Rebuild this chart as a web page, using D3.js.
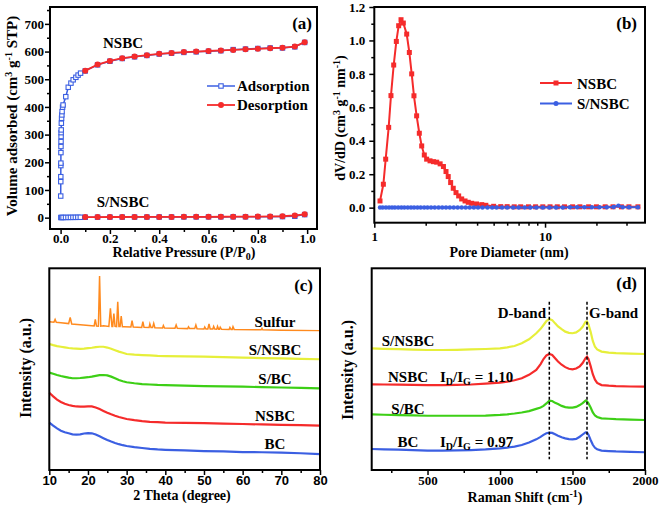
<!DOCTYPE html>
<html><head><meta charset="utf-8">
<script src="https://cdn.jsdelivr.net/npm/d3@7"></script>
<style>
body{margin:0;background:#fff}
svg{display:block}
text{font-family:"Liberation Serif","Times New Roman",serif;font-weight:bold;fill:#000}
</style></head>
<body><svg id="c" width="659" height="505"></svg>
<script>
// ---------- Panel (a): N2 isotherms ----------
const adsNSBC_P = [0.0005,0.0007,0.0008,0.001,0.0011,0.0013,0.0015,0.0017,0.002,0.0022,0.0025,0.003,0.004,0.005,0.006,0.008,0.01,0.021,0.031,0.042,0.051,0.062,0.071,0.081,0.1,0.15,0.2,0.25,0.3,0.35,0.4,0.45,0.5,0.55,0.6,0.65,0.7,0.75,0.8,0.85,0.9,0.95,0.99];
const adsNSBC_V = [78,130,148,188,197,235,257,275,293,307,317,341,359,371,383,399,407,437,471,486,498,507,515,522,530,552,565,575,581,586,591,594,597,599,601,603,607,609,611,613,613,617,633];
const desNSBC_P = [0.1,0.15,0.2,0.25,0.3,0.35,0.4,0.45,0.5,0.55,0.6,0.65,0.7,0.75,0.8,0.85,0.9,0.95,0.99];
const desNSBC_V = [531,553,566,576,582,587,592,595,598,600,602,604,606,608,610,612,614,618,634];
const adsSNSBC_P = [0.001,0.005,0.01,0.02,0.03,0.04,0.05,0.06,0.07,0.08,0.1,0.15,0.2,0.25,0.3,0.35,0.4,0.45,0.5,0.55,0.6,0.65,0.7,0.75,0.8,0.85,0.9,0.95,0.99];
const adsSNSBC_V = [0.5,0.6,0.7,0.8,0.9,1.0,1.1,1.2,1.3,1.4,1.5,1.7,1.9,2.0,2.1,2.2,2.3,2.4,2.5,2.6,2.7,2.8,2.9,3.0,3.2,3.4,3.8,5,11];
const desSNSBC_P = [0.1,0.15,0.2,0.25,0.3,0.35,0.4,0.45,0.5,0.55,0.6,0.65,0.7,0.75,0.8,0.85,0.9,0.95,0.99];
const desSNSBC_V = [2,2.2,2.3,2.4,2.5,2.6,2.7,2.8,2.9,3,3.1,3.2,3.4,3.6,3.9,4.3,5,8,12];
const ticksA_X = [0,0.2,0.4,0.6,0.8,1.0];
const ticksA_Y = [0,100,200,300,400,500,600,700];

// ---------- Panel (b): pore size distribution ----------
const psdNSBC_D = [1.08,1.13,1.166,1.214,1.252,1.299,1.346,1.389,1.434,1.479,1.548,1.604,1.656,1.707,1.77,1.835,1.895,1.963,2.026,2.12,2.22,2.32,2.43,2.54,2.63,2.71,2.80,2.90,3.01,3.12,3.25,3.40,3.55,3.72,3.97,4.26,4.5,5.0,5.5,6.0,6.6,7.2,8.0,8.8,9.7,10.7,11.8,13,14.5,16,18,20,22.5,25,28,31,35];
const psdNSBC_V = [0.04,0.14,0.29,0.48,0.67,0.853,0.994,1.088,1.124,1.104,1.038,0.928,0.80,0.669,0.549,0.445,0.369,0.315,0.29,0.28,0.275,0.272,0.262,0.246,0.216,0.186,0.15,0.116,0.09,0.07,0.052,0.04,0.032,0.026,0.022,0.018,0.014,0.008,0.006,0.006,0.005,0.005,0.005,0.005,0.005,0.005,0.005,0.005,0.005,0.005,0.005,0.005,0.005,0.005,0.005,0.005,0.005];
const psdSNSBC_D = [1.08,1.12,1.17,1.22,1.27,1.32,1.38,1.44,1.5,1.57,1.64,1.71,1.79,1.87,1.96,2.05,2.15,2.26,2.38,2.5,2.63,2.77,2.92,3.08,3.25,3.43,3.62,3.83,4.05,4.3,4.6,4.9,5.2,5.6,6.0,6.5,7.0,7.6,8.2,8.9,9.7,10.6,11.6,12.7,14,15.4,17,18.8,20.8,23,25.2,26.9,28.5,31,35];
const psdSNSBC_V = [0.001,0.001,0.001,0.001,0.001,0.001,0.001,0.001,0.001,0.001,0.001,0.001,0.001,0.001,0.001,0.001,0.001,0.001,0.001,0.001,0.001,0.001,0.001,0.001,0.001,0.001,0.001,0.001,0.001,0.001,0.001,0.001,0.001,0.001,0.001,0.001,0.001,0.001,0.001,0.001,0.001,0.001,0.001,0.001,0.002,0.002,0.002,0.002,0.002,0.002,0.004,0.012,0.003,0.002,0.002];
const ticksB_Y = [0,0.2,0.4,0.6,0.8,1.0,1.2];
const ticksB_X = [1,10];

// ---------- Panel (c): XRD ----------
const xrdX = [10,11,12,13,14,15,16,17,18,19,20,21,22,23,24,25,26,27,28,29,30,32,34,36,38,40,45,50,55,60,65,70,75,80];
const xrdBC = [23.5,22,20.6,19.5,18.7,18.2,17.7,17.5,17.7,18.1,18.3,18.2,17.6,16.7,15.8,14.9,14.1,13.4,12.8,12.3,11.9,11.3,10.9,10.5,10.2,10.0,9.7,9.4,9.2,8.9,8.8,8.6,8.3,7.9];
const xrdNSBC = [38.3,36.5,34.9,33.7,32.8,32.2,31.8,31.5,31.4,31.4,31.5,31.5,31,30.2,29.3,28.4,27.6,26.9,26.3,25.8,25.3,24.7,24.2,23.9,23.7,23.5,23.4,23.2,23.0,22.8,22.6,22.4,22.2,22.0];
const xrdSBC = [48.3,47.7,47.1,46.6,46.2,45.8,45.5,45.5,45.6,45.8,46,46.3,46.7,47,47.1,46.9,46.3,45.5,44.6,44,43.5,43,42.6,42.4,42.2,42.1,41.8,41.6,41.5,41.3,41.1,40.9,40.7,40.5];
const xrdSNSBC = [62.5,61.9,61.4,61.1,60.8,60.5,60.3,60.2,60.1,60.2,60.4,60.6,60.9,61.1,61.1,60.7,60.1,59.4,58.7,58.1,57.5,57.2,57,56.8,56.6,56.5,56.3,56.2,56,55.7,55.5,55.3,55.1,54.9];
const xrdSulfurX = [10,11.2,11.5,11.8,13,15,15.4,15.8,18,21,21.6,21.9,22.2,22.7,23.0,23.3,24,25.4,25.8,26.2,26.4,26.7,27.0,27.4,27.7,28.0,28.3,28.6,28.9,29.3,31.1,31.4,31.7,33.9,34.2,34.5,35.8,36.0,36.3,36.7,37.0,37.3,39.3,39.5,39.8,42.5,42.8,43.1,45.8,46.0,46.3,47.6,47.9,48.2,50,50.2,50.5,51,51.3,51.6,52.3,52.5,52.8,53.3,53.5,53.8,54.0,54.2,54.5,56.5,56.7,57,57.3,57.5,57.8,64.8,65,65.2,70,80];
const xrdSulfurY = [73.5,73.3,74.6,73.2,73,72.6,75.6,72.4,72,71.5,71.4,74.7,71.4,71.3,96.2,71.3,71.5,71.2,80.2,71.2,71.2,77.6,71.2,71.1,83.4,71.1,71.1,76.3,71,71,70.9,74.1,70.9,70.7,73.6,70.7,70.6,72.4,70.6,70.6,72.7,70.5,70.4,71.6,70.4,70.3,71.9,70.3,70.1,71,70.1,70.1,71.9,70,69.9,70.9,69.9,69.9,72.4,69.9,69.9,71.2,69.9,69.8,71.2,69.8,69.8,70.8,69.8,69.7,70.7,69.7,69.7,71.0,69.7,69.5,70.2,69.5,69.3,69.1];
const ticksC_X = [10,20,30,40,50,60,70,80];

// ---------- Panel (d): Raman ----------
const ramanX = [115,200,300,400,500,600,700,800,900,1000,1050,1100,1150,1200,1250,1280,1300,1320,1340,1360,1380,1400,1425,1450,1475,1500,1525,1550,1570,1590,1600,1610,1625,1640,1655,1670,1700,1750,1800,1900,2000];
const ramanBC = [10.4,10.2,10.1,9.9,9.6,9.6,9.7,9.9,10.2,10.7,11.1,11.6,12.4,13.6,15.2,16.4,17.4,18.2,18.5,18.4,17.7,17,16.2,15.7,15.3,15.2,15.4,16.5,17.6,18.7,18.6,17.5,14.9,12.5,11.0,10.3,9.6,9.4,9.2,9.0,8.8];
const ramanSBC = [27.6,27.4,27.2,27.1,26.9,26.9,26.9,26.9,27,27.3,27.6,28.0,28.5,29.2,30.3,31.0,31.8,33.0,34.4,34.2,33.3,32.7,31.8,31.2,30.9,30.9,31.3,32.2,33.2,34.4,34.0,33.0,31.0,28.5,27.0,26.3,25.6,25.4,25.2,25.0,24.8];
const ramanNSBC = [42.5,42.4,42.3,42.2,42.1,42.1,42.2,42.4,42.8,43.3,43.8,44.5,45.5,47.2,49.6,52.5,55.0,56.8,57.5,57.0,55.4,53.8,52.2,51.0,50.2,49.9,50.3,51.4,53.0,55.5,56.2,55.0,51.5,47.5,44.8,43.2,42.1,41.8,41.6,41.4,41.3];
const ramanSNSBC = [60.3,60.1,59.9,59.7,59.5,59.5,59.6,59.8,60.0,60.3,60.8,61.5,62.8,64.8,67.8,70.0,71.9,73.8,74.9,74.3,72.7,71.2,69.8,68.6,68.0,67.8,68.2,69.4,71.0,73.5,73.6,72.2,68.5,64.0,61.1,59.8,58.7,58.2,57.9,57.7,57.5];
const bandPositions = [1340,1600];
const ticksD_X = [500,1000,1500,2000];

// ================= drawing =================
const svg = d3.select("#c");
const RED = "#f52b2b", BLUE = "#3b5fe2", GREEN = "#3dcf16", YELLOW = "#e6ef3a", ORANGE = "#ff8a1e";
const SERIF = '"Liberation Serif","Times New Roman",serif';

function styleAxis(g, fs, fam){
  g.select(".domain").remove();
  g.attr("font-family", null).attr("font-size", null);
  g.selectAll("line").attr("stroke","#000").attr("stroke-width",1.5);
  g.selectAll("text").style("font-size",fs+"px").style("font-weight","bold")
    .style("font-family", fam || SERIF).attr("fill","#000");
}
function frame(x0,y0,x1,y1){
  svg.append("rect").attr("x",x0).attr("y",y0).attr("width",x1-x0).attr("height",y1-y0)
    .attr("fill","none").attr("stroke","#000").attr("stroke-width",2);
}

// ---------- Panel (a) ----------
{
  const L=50,R=317,T=7,B=229;
  const x = d3.scaleLinear().domain([-0.043,1.04]).range([L,R]);
  const y = d3.scaleLinear().domain([-41,761]).range([B,T]);
  const gx = svg.append("g").attr("transform",`translate(0,${B})`)
    .call(d3.axisBottom(x).tickValues(ticksA_X).tickFormat(d3.format(".1f")).tickSize(5).tickPadding(0));
  styleAxis(gx,13);
  const gxm = svg.append("g").attr("transform",`translate(0,${B})`)
    .call(d3.axisBottom(x).tickValues([0.1,0.3,0.5,0.7,0.9]).tickFormat("").tickSize(3));
  styleAxis(gxm,13);
  const gy = svg.append("g").attr("transform",`translate(${L},0)`)
    .call(d3.axisLeft(y).tickValues(ticksA_Y).tickSize(5).tickPadding(1));
  styleAxis(gy,13);
  const gym = svg.append("g").attr("transform",`translate(${L},0)`)
    .call(d3.axisLeft(y).tickValues([50,150,250,350,450,550,650,750]).tickFormat("").tickSize(3));
  styleAxis(gym,13);

  const line = d3.line().x(d=>x(d[0])).y(d=>y(d[1]));
  const ads1 = adsNSBC_P.map((p,i)=>[p,adsNSBC_V[i]]);
  const des1 = desNSBC_P.map((p,i)=>[p,desNSBC_V[i]]);
  const ads2 = adsSNSBC_P.map((p,i)=>[p,adsSNSBC_V[i]]);
  const des2 = desSNSBC_P.map((p,i)=>[p,desSNSBC_V[i]]);
  [ads1,ads2].forEach(s=>{
    svg.append("path").attr("d",line(s)).attr("fill","none").attr("stroke",BLUE).attr("stroke-width",1.5);
    svg.append("g").selectAll("rect").data(s).join("rect")
      .attr("x",d=>x(d[0])-2.2).attr("y",d=>y(d[1])-2.2).attr("width",4.4).attr("height",4.4)
      .attr("fill","#fff").attr("stroke",BLUE).attr("stroke-width",1.1);
  });
  [des1,des2].forEach(s=>{
    svg.append("path").attr("d",line(s)).attr("fill","none").attr("stroke",RED).attr("stroke-width",1.8);
    svg.append("g").selectAll("circle").data(s).join("circle")
      .attr("cx",d=>x(d[0])).attr("cy",d=>y(d[1])).attr("r",3).attr("fill",RED);
  });
  frame(L,T,R,B);
  svg.append("line").attr("x1",207).attr("x2",235).attr("y1",86).attr("y2",86).attr("stroke",BLUE).attr("stroke-width",1.5);
  svg.append("rect").attr("x",218.8).attr("y",83.8).attr("width",4.4).attr("height",4.4).attr("fill","#fff").attr("stroke",BLUE).attr("stroke-width",1.1);
  svg.append("text").attr("x",237).attr("y",91).style("font-size","15px").text("Adsorption");
  svg.append("line").attr("x1",207).attr("x2",235).attr("y1",105).attr("y2",105).attr("stroke",RED).attr("stroke-width",1.8);
  svg.append("circle").attr("cx",221).attr("cy",105).attr("r",3).attr("fill",RED);
  svg.append("text").attr("x",237).attr("y",110).style("font-size","15px").text("Desorption");
  svg.append("text").attr("x",123).attr("y",48).attr("text-anchor","middle").style("font-size","15px").text("NSBC");
  svg.append("text").attr("x",123).attr("y",207).attr("text-anchor","middle").style("font-size","15px").text("S/NSBC");
  svg.append("text").attr("x",312).attr("y",29).attr("text-anchor","end").style("font-size","17px").text("(a)");
  const xt = svg.append("text").attr("x",184).attr("y",257).attr("text-anchor","middle").style("font-size","14px");
  xt.append("tspan").text("Relative Pressure (P/P");
  xt.append("tspan").attr("dy",3).style("font-size","10px").text("0");
  xt.append("tspan").attr("dy",-3).text(")");
  const yt = svg.append("text").attr("transform","translate(17,116) rotate(-90)").attr("text-anchor","middle").style("font-size","15px");
  yt.append("tspan").text("Volume adsorbed (cm");
  yt.append("tspan").attr("dy",-5).style("font-size","10px").text("3");
  yt.append("tspan").attr("dy",5).text(" g");
  yt.append("tspan").attr("dy",-5).style("font-size","10px").text("-1");
  yt.append("tspan").attr("dy",5).text(" STP)");
}

// ---------- Panel (b) ----------
{
  const L=374.3,R=645,T=7,B=222.7;
  const x = d3.scaleLog().domain([1,38.5]).range([L,R]);
  const y = d3.scaleLinear().domain([-0.09,1.2]).range([B,T]);
  const gx = svg.append("g").attr("transform",`translate(0,${B})`)
    .call(d3.axisBottom(x).tickValues(ticksB_X).tickFormat(d3.format("d")).tickSize(5).tickPadding(4));
  styleAxis(gx,13);
  const gxm = svg.append("g").attr("transform",`translate(0,${B})`)
    .call(d3.axisBottom(x).tickValues([2,3,4,5,6,7,8,9,20,30]).tickFormat("").tickSize(3));
  styleAxis(gxm,13);
  const gy = svg.append("g").attr("transform",`translate(${L},0)`)
    .call(d3.axisLeft(y).tickValues(ticksB_Y).tickFormat(d3.format(".1f")).tickSize(5).tickPadding(4));
  styleAxis(gy,13);
  const gym = svg.append("g").attr("transform",`translate(${L},0)`)
    .call(d3.axisLeft(y).tickValues([0.1,0.3,0.5,0.7,0.9,1.1]).tickFormat("").tickSize(3));
  styleAxis(gym,13);
  const line = d3.line().x(d=>x(d[0])).y(d=>y(d[1]));
  const n = psdNSBC_D.map((d,i)=>[d,psdNSBC_V[i]]);
  const s = psdSNSBC_D.map((d,i)=>[d,psdSNSBC_V[i]]);
  svg.append("path").attr("d",line(n)).attr("fill","none").attr("stroke",RED).attr("stroke-width",2);
  svg.append("g").selectAll("rect").data(n).join("rect")
    .attr("x",d=>x(d[0])-2.5).attr("y",d=>y(d[1])-2.5).attr("width",5).attr("height",5).attr("fill",RED);
  svg.append("path").attr("d",line(s)).attr("fill","none").attr("stroke",BLUE).attr("stroke-width",2);
  svg.append("g").selectAll("circle").data(s).join("circle")
    .attr("cx",d=>x(d[0])).attr("cy",d=>y(d[1])).attr("r",2.2).attr("fill",BLUE);
  frame(L,T,R,B);
  svg.append("line").attr("x1",540).attr("x2",572).attr("y1",83).attr("y2",83).attr("stroke",RED).attr("stroke-width",2);
  svg.append("rect").attr("x",553.5).attr("y",80.5).attr("width",5).attr("height",5).attr("fill",RED);
  svg.append("text").attr("x",577).attr("y",88.5).style("font-size","15px").text("NSBC");
  svg.append("line").attr("x1",540).attr("x2",572).attr("y1",103.5).attr("y2",103.5).attr("stroke",BLUE).attr("stroke-width",2);
  svg.append("circle").attr("cx",556).attr("cy",103.5).attr("r",2.5).attr("fill",BLUE);
  svg.append("text").attr("x",577).attr("y",109).style("font-size","15px").text("S/NSBC");
  svg.append("text").attr("x",637).attr("y",29).attr("text-anchor","end").style("font-size","17px").text("(b)");
  svg.append("text").attr("x",509).attr("y",257).attr("text-anchor","middle").style("font-size","14px").text("Pore Diameter (nm)");
  const yt = svg.append("text").attr("transform","translate(345,118) rotate(-90)").attr("text-anchor","middle").style("font-size","14px");
  yt.append("tspan").text("dV/dD (cm");
  yt.append("tspan").attr("dy",-5).style("font-size","10px").text("3");
  yt.append("tspan").attr("dy",5).text(" g");
  yt.append("tspan").attr("dy",-5).style("font-size","10px").text("-1");
  yt.append("tspan").attr("dy",5).text(" nm");
  yt.append("tspan").attr("dy",-5).style("font-size","10px").text("-1");
  yt.append("tspan").attr("dy",5).text(")");
}

// ---------- Panel (c) ----------
{
  const L=49.3,R=320,T=268.3,B=470;
  const x = d3.scaleLinear().domain([10,80]).range([L,R]);
  const y = d3.scaleLinear().domain([0,100]).range([B,T]);
  const gx = svg.append("g").attr("transform",`translate(0,${B})`)
    .call(d3.axisBottom(x).tickValues(ticksC_X).tickFormat(d3.format("d")).tickSize(5).tickPadding(0.5));
  styleAxis(gx,13,'"Liberation Sans",Arial,sans-serif');
  const gxm = svg.append("g").attr("transform",`translate(0,${B})`)
    .call(d3.axisBottom(x).tickValues([15,25,35,45,55,65,75]).tickFormat("").tickSize(3));
  styleAxis(gxm,13);
  const line = d3.line().x(d=>x(d[0])).y(d=>y(d[1]));
  const series = [[xrdBC,BLUE],[xrdNSBC,RED],[xrdSBC,GREEN],[xrdSNSBC,YELLOW]];
  series.forEach(([v,c])=>{
    svg.append("path").attr("d",line(xrdX.map((t,i)=>[t,v[i]]))).attr("fill","none").attr("stroke",c).attr("stroke-width",2.2);
  });
  svg.append("path").attr("d",line(xrdSulfurX.map((t,i)=>[t,xrdSulfurY[i]]))).attr("fill","none").attr("stroke",ORANGE).attr("stroke-width",1.5);
  frame(L,T,R,B);
  const lab = [["Sulfur",326.5],["S/NSBC",354.5],["S/BC",383.5],["NSBC",421],["BC",448.5]];
  lab.forEach(([t,yy])=>svg.append("text").attr("x",275).attr("y",yy).attr("text-anchor","middle").style("font-size","15px").text(t));
  svg.append("text").attr("x",313).attr("y",291).attr("text-anchor","end").style("font-size","17px").text("(c)");
  svg.append("text").attr("x",182).attr("y",499.5).attr("text-anchor","middle").style("font-size","14px").text("2 Theta (degree)");
  svg.append("text").attr("transform","translate(31,368) rotate(-90)").attr("text-anchor","middle").style("font-size","16px").text("Intensity (a.u.)");
}

// ---------- Panel (d) ----------
{
  const L=371.7,R=645,T=268.3,B=470;
  const x = d3.scaleLinear().domain([115,2000]).range([L,R]);
  const y = d3.scaleLinear().domain([0,100]).range([B,T]);
  const gx = svg.append("g").attr("transform",`translate(0,${B})`)
    .call(d3.axisBottom(x).tickValues(ticksD_X).tickFormat(d3.format("d")).tickSize(5).tickPadding(1));
  styleAxis(gx,13);
  const gxm = svg.append("g").attr("transform",`translate(0,${B})`)
    .call(d3.axisBottom(x).tickValues([250,750,1250,1750]).tickFormat("").tickSize(3));
  styleAxis(gxm,13);
  const line = d3.line().x(d=>x(d[0])).y(d=>y(d[1]));
  const series = [[ramanBC,BLUE],[ramanSBC,GREEN],[ramanNSBC,RED],[ramanSNSBC,YELLOW]];
  series.forEach(([v,c])=>{
    svg.append("path").attr("d",line(ramanX.map((t,i)=>[t,v[i]]))).attr("fill","none").attr("stroke",c).attr("stroke-width",2.2);
  });
  bandPositions.forEach(b=>{
    svg.append("line").attr("x1",x(b)).attr("x2",x(b)).attr("y1",y(83.4)).attr("y2",y(5.3))
      .attr("stroke","#000").attr("stroke-width",1.5).attr("stroke-dasharray","3,2");
  });
  frame(L,T,R,B);
  svg.append("text").attr("x",546).attr("y",318).attr("text-anchor","end").style("font-size","15px").text("D-band");
  svg.append("text").attr("x",589).attr("y",318).style("font-size","15px").text("G-band");
  [["S/NSBC",346],["NSBC",382],["S/BC",413.5],["BC",447]].forEach(([t,yy])=>
    svg.append("text").attr("x",408).attr("y",yy).attr("text-anchor","middle").style("font-size","15px").text(t));
  [["1.10",382],["0.97",447]].forEach(([v,yy])=>{
    const t = svg.append("text").attr("x",440).attr("y",yy).style("font-size","15px");
    t.append("tspan").text("I");
    t.append("tspan").attr("dy",3).style("font-size","10px").text("D");
    t.append("tspan").attr("dy",-3).text("/I");
    t.append("tspan").attr("dy",3).style("font-size","10px").text("G");
    t.append("tspan").attr("dy",-3).text(" = "+v);
  });
  svg.append("text").attr("x",637).attr("y",289).attr("text-anchor","end").style("font-size","17px").text("(d)");
  const xt = svg.append("text").attr("x",525).attr("y",502).attr("text-anchor","middle").style("font-size","14px");
  xt.append("tspan").text("Raman Shift (cm");
  xt.append("tspan").attr("dy",-5).style("font-size","10px").text("-1");
  xt.append("tspan").attr("dy",5).text(")");
  svg.append("text").attr("transform","translate(353,370) rotate(-90)").attr("text-anchor","middle").style("font-size","16px").text("Intensity (a.u.)");
}
</script></body></html>
